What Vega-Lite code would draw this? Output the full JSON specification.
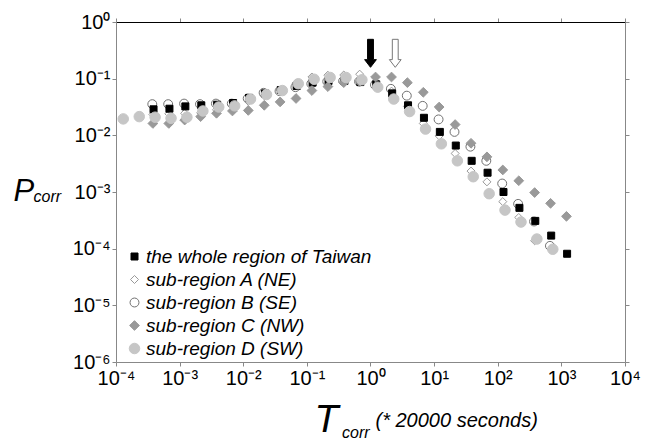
{
"$schema": "https://vega.github.io/schema/vega-lite/v6.json",
"width": 509, "height": 340,
"autosize": "none",
"padding": {"left": 116, "top": 22, "right": 31, "bottom": 80},
"background": "white",
"title": {"text": "corr", "orient": "bottom", "anchor": "start", "frame": "group", "dx": 226, "dy": -1, "offset": 0, "baseline": "alphabetic", "font": "Liberation Sans", "fontSize": 16, "fontStyle": "italic", "fontWeight": "normal", "color": "black"},
"config": {
  "view": {"stroke": null},
  "font": "Liberation Sans",
  "axis": {"labelFont": "Liberation Sans", "labelFontSize": 20, "labelColor": "black", "tickColor": "#888888", "domainColor": "#888888", "tickSize": 4, "grid": false, "titleFont": "Liberation Sans", "titleColor": "black", "titleFontWeight": "normal", "labelOverlap": false, "labelBound": false},
  "legend": {"orient": "none", "legendX": 9, "legendY": 225, "labelFont": "Liberation Sans", "labelFontSize": 19, "labelFontStyle": "italic", "labelColor": "black", "labelOffset": 2, "labelLimit": 0, "rowPadding": 3, "padding": 0, "symbolStrokeWidth": 1}
},
"layer": [
{
  "data": {"values": [
    {"s":"sub-region B (SE)","x":0.000372,"y":0.0355},{"s":"sub-region B (SE)","x":0.000661,"y":0.0355},{"s":"sub-region B (SE)","x":0.001175,"y":0.0363},{"s":"sub-region B (SE)","x":0.00209,"y":0.0355},{"s":"sub-region B (SE)","x":0.00372,"y":0.0363},{"s":"sub-region B (SE)","x":0.00661,"y":0.0363},{"s":"sub-region B (SE)","x":0.01175,"y":0.0447},{"s":"sub-region B (SE)","x":0.0209,"y":0.0562},{"s":"sub-region B (SE)","x":0.0372,"y":0.0603},{"s":"sub-region B (SE)","x":0.0661,"y":0.0708},{"s":"sub-region B (SE)","x":0.1175,"y":0.0813},{"s":"sub-region B (SE)","x":0.209,"y":0.0891},{"s":"sub-region B (SE)","x":0.372,"y":0.0912},{"s":"sub-region B (SE)","x":0.661,"y":0.0891},{"s":"sub-region B (SE)","x":1.175,"y":0.0776},{"s":"sub-region B (SE)","x":2.09,"y":0.0661},{"s":"sub-region B (SE)","x":3.72,"y":0.0501},{"s":"sub-region B (SE)","x":6.61,"y":0.0331},{"s":"sub-region B (SE)","x":11.75,"y":0.0191},{"s":"sub-region B (SE)","x":20.9,"y":0.0115},{"s":"sub-region B (SE)","x":37.2,"y":0.00631},{"s":"sub-region B (SE)","x":66.1,"y":0.00355},{"s":"sub-region B (SE)","x":117.5,"y":0.00141},{"s":"sub-region B (SE)","x":209,"y":0.000617},{"s":"sub-region B (SE)","x":372,"y":0.000302},{"s":"sub-region B (SE)","x":661,"y":0.000112},
    {"s":"sub-region A (NE)","x":0.00038,"y":0.0234},{"s":"sub-region A (NE)","x":0.000676,"y":0.024},{"s":"sub-region A (NE)","x":0.0012,"y":0.0245},{"s":"sub-region A (NE)","x":0.00214,"y":0.0251},{"s":"sub-region A (NE)","x":0.0038,"y":0.0282},{"s":"sub-region A (NE)","x":0.00676,"y":0.0331},{"s":"sub-region A (NE)","x":0.012,"y":0.0398},{"s":"sub-region A (NE)","x":0.0214,"y":0.0501},{"s":"sub-region A (NE)","x":0.038,"y":0.0631},{"s":"sub-region A (NE)","x":0.0676,"y":0.0832},{"s":"sub-region A (NE)","x":0.12,"y":0.107},{"s":"sub-region A (NE)","x":0.214,"y":0.115},{"s":"sub-region A (NE)","x":0.38,"y":0.116},{"s":"sub-region A (NE)","x":0.676,"y":0.12},{"s":"sub-region A (NE)","x":1.2,"y":0.0891},{"s":"sub-region A (NE)","x":2.14,"y":0.0603},{"s":"sub-region A (NE)","x":3.8,"y":0.0324},{"s":"sub-region A (NE)","x":6.76,"y":0.0162},{"s":"sub-region A (NE)","x":12,"y":0.00977},{"s":"sub-region A (NE)","x":21.4,"y":0.00479},{"s":"sub-region A (NE)","x":38,"y":0.00234},{"s":"sub-region A (NE)","x":67.6,"y":0.00151},{"s":"sub-region A (NE)","x":120,"y":0.000676},{"s":"sub-region A (NE)","x":214,"y":0.000355},{"s":"sub-region A (NE)","x":380,"y":0.000138},
    {"s":"the whole region of Taiwan","x":0.000389,"y":0.0288},{"s":"the whole region of Taiwan","x":0.000692,"y":0.0295},{"s":"the whole region of Taiwan","x":0.00123,"y":0.0324},{"s":"the whole region of Taiwan","x":0.00219,"y":0.0339},{"s":"the whole region of Taiwan","x":0.00389,"y":0.0347},{"s":"the whole region of Taiwan","x":0.00692,"y":0.0372},{"s":"the whole region of Taiwan","x":0.0123,"y":0.0457},{"s":"the whole region of Taiwan","x":0.0219,"y":0.055},{"s":"the whole region of Taiwan","x":0.0389,"y":0.0631},{"s":"the whole region of Taiwan","x":0.0692,"y":0.0741},{"s":"the whole region of Taiwan","x":0.123,"y":0.0851},{"s":"the whole region of Taiwan","x":0.219,"y":0.0912},{"s":"the whole region of Taiwan","x":0.389,"y":0.0912},{"s":"the whole region of Taiwan","x":0.692,"y":0.0871},{"s":"the whole region of Taiwan","x":1.23,"y":0.0794},{"s":"the whole region of Taiwan","x":2.19,"y":0.055},{"s":"the whole region of Taiwan","x":3.89,"y":0.0339},{"s":"the whole region of Taiwan","x":6.92,"y":0.0204},{"s":"the whole region of Taiwan","x":12.3,"y":0.0115},{"s":"the whole region of Taiwan","x":21.9,"y":0.0066},{"s":"the whole region of Taiwan","x":38.9,"y":0.00355},{"s":"the whole region of Taiwan","x":69.2,"y":0.00219},{"s":"the whole region of Taiwan","x":123,"y":0.001},{"s":"the whole region of Taiwan","x":219,"y":0.000525},{"s":"the whole region of Taiwan","x":389,"y":0.000309},{"s":"the whole region of Taiwan","x":692,"y":0.00017},{"s":"the whole region of Taiwan","x":1230,"y":0.0000813},
    {"s":"sub-region C (NW)","x":0.00038,"y":0.0162},{"s":"sub-region C (NW)","x":0.000676,"y":0.0162},{"s":"sub-region C (NW)","x":0.0012,"y":0.0186},{"s":"sub-region C (NW)","x":0.00214,"y":0.0214},{"s":"sub-region C (NW)","x":0.0038,"y":0.0245},{"s":"sub-region C (NW)","x":0.00676,"y":0.0269},{"s":"sub-region C (NW)","x":0.012,"y":0.0275},{"s":"sub-region C (NW)","x":0.0214,"y":0.0339},{"s":"sub-region C (NW)","x":0.038,"y":0.0389},{"s":"sub-region C (NW)","x":0.0676,"y":0.0447},{"s":"sub-region C (NW)","x":0.12,"y":0.0617},{"s":"sub-region C (NW)","x":0.214,"y":0.0724},{"s":"sub-region C (NW)","x":0.38,"y":0.0851},{"s":"sub-region C (NW)","x":0.676,"y":0.0891},{"s":"sub-region C (NW)","x":1.2,"y":0.107},{"s":"sub-region C (NW)","x":2.14,"y":0.107},{"s":"sub-region C (NW)","x":3.8,"y":0.0851},{"s":"sub-region C (NW)","x":6.76,"y":0.0575},{"s":"sub-region C (NW)","x":12,"y":0.0316},{"s":"sub-region C (NW)","x":21.4,"y":0.0155},{"s":"sub-region C (NW)","x":38,"y":0.00724},{"s":"sub-region C (NW)","x":67.6,"y":0.00417},{"s":"sub-region C (NW)","x":120,"y":0.00245},{"s":"sub-region C (NW)","x":214,"y":0.00158},{"s":"sub-region C (NW)","x":380,"y":0.000977},{"s":"sub-region C (NW)","x":676,"y":0.000631},{"s":"sub-region C (NW)","x":1202,"y":0.000372},
    {"s":"sub-region D (SW)","x":0.00013,"y":0.0195},{"s":"sub-region D (SW)","x":0.000232,"y":0.0214},{"s":"sub-region D (SW)","x":0.000412,"y":0.0209},{"s":"sub-region D (SW)","x":0.000733,"y":0.02},{"s":"sub-region D (SW)","x":0.0013,"y":0.0209},{"s":"sub-region D (SW)","x":0.00232,"y":0.0269},{"s":"sub-region D (SW)","x":0.00412,"y":0.0316},{"s":"sub-region D (SW)","x":0.00733,"y":0.0331},{"s":"sub-region D (SW)","x":0.013,"y":0.0437},{"s":"sub-region D (SW)","x":0.0232,"y":0.0525},{"s":"sub-region D (SW)","x":0.0412,"y":0.0617},{"s":"sub-region D (SW)","x":0.0733,"y":0.0813},{"s":"sub-region D (SW)","x":0.13,"y":0.0977},{"s":"sub-region D (SW)","x":0.232,"y":0.105},{"s":"sub-region D (SW)","x":0.412,"y":0.105},{"s":"sub-region D (SW)","x":0.733,"y":0.0955},{"s":"sub-region D (SW)","x":1.3,"y":0.0708},{"s":"sub-region D (SW)","x":2.32,"y":0.0437},{"s":"sub-region D (SW)","x":4.12,"y":0.0263},{"s":"sub-region D (SW)","x":7.33,"y":0.0129},{"s":"sub-region D (SW)","x":13,"y":0.00708},{"s":"sub-region D (SW)","x":23.2,"y":0.00355},{"s":"sub-region D (SW)","x":41.2,"y":0.00186},{"s":"sub-region D (SW)","x":73.3,"y":0.000933},{"s":"sub-region D (SW)","x":130,"y":0.000479},{"s":"sub-region D (SW)","x":232,"y":0.000295},{"s":"sub-region D (SW)","x":412,"y":0.000148},{"s":"sub-region D (SW)","x":733,"y":0.0000977}
  ]},
  "mark": {"type": "point", "opacity": 1, "strokeWidth": 1},
  "encoding": {
    "x": {"field": "x", "type": "quantitative", "scale": {"type": "log", "domain": [0.0001, 10000], "nice": false},
      "axis": {"orient": "bottom", "values": [0.0001, 0.001, 0.01, 0.1, 1, 10, 100, 1000, 10000], "labelFlush": false, "labelPadding": 2,
        "labelExpr": "'10' + (datum.value < 0.99 ? '⁻' : '') + ['⁰','¹','²','³','⁴','⁵','⁶'][abs(round(log(datum.value)/LN10))]",
        "title": "T", "titleFontSize": 39, "titleFontStyle": "italic", "titleAlign": "left", "titleBaseline": "alphabetic", "titleX": 198, "titleY": 69}},
    "y": {"field": "y", "type": "quantitative", "scale": {"type": "log", "domain": [0.000001, 1], "nice": false},
      "axis": {"orient": "left", "values": [0.000001, 0.00001, 0.0001, 0.001, 0.01, 0.1, 1], "labelPadding": 2,
        "labelExpr": "'10' + (datum.value < 0.99 ? '⁻' : '') + ['⁰','¹','²','³','⁴','⁵','⁶'][abs(round(log(datum.value)/LN10))]",
        "title": "P", "titleFontSize": 31, "titleFontStyle": "italic", "titleAngle": 0, "titleAlign": "left", "titleBaseline": "alphabetic", "titleX": -103, "titleY": 178}},
    "shape": {"field": "s", "type": "nominal", "title": null, "scale": {"domain": ["the whole region of Taiwan", "sub-region A (NE)", "sub-region B (SE)", "sub-region C (NW)", "sub-region D (SW)"], "range": ["square", "diamond", "circle", "diamond", "circle"]}},
    "fill": {"field": "s", "type": "nominal", "title": null, "scale": {"domain": ["the whole region of Taiwan", "sub-region A (NE)", "sub-region B (SE)", "sub-region C (NW)", "sub-region D (SW)"], "range": ["#000000", "transparent", "transparent", "#999999", "#c6c6c6"]}},
    "stroke": {"field": "s", "type": "nominal", "title": null, "scale": {"domain": ["the whole region of Taiwan", "sub-region A (NE)", "sub-region B (SE)", "sub-region C (NW)", "sub-region D (SW)"], "range": ["#000000", "#999999", "#707070", "#999999", "#c6c6c6"]}},
    "size": {"field": "s", "type": "nominal", "title": null, "scale": {"domain": ["the whole region of Taiwan", "sub-region A (NE)", "sub-region B (SE)", "sub-region C (NW)", "sub-region D (SW)"], "range": [49, 110, 100, 110, 110]}}
  }
},
{
  "data": {"values": [{"arrow": "filled", "x": 1, "y": 0.28}, {"arrow": "hollow", "x": 2.45, "y": 0.28}]},
  "mark": {"type": "point", "shape": "M-0.21,-1L0.21,-1L0.21,0.45L0.42,0.45L0,1L-0.42,0.45L-0.21,0.45Z", "size": 784, "opacity": 1, "strokeWidth": 1},
  "encoding": {
    "x": {"field": "x", "type": "quantitative", "scale": {"type": "log", "domain": [0.0001, 10000], "nice": false},
      "axis": {"orient": "top", "values": [0.0001, 0.001, 0.01, 0.1, 1, 10, 100, 1000, 10000], "labels": false, "domainColor": "#000000",
        "title": "(* 20000 seconds)", "titleFontSize": 20, "titleFontStyle": "italic", "titleAlign": "left", "titleBaseline": "alphabetic", "titleX": 259, "titleY": 404}},
    "y": {"field": "y", "type": "quantitative", "scale": {"type": "log", "domain": [0.000001, 1], "nice": false},
      "axis": {"orient": "right", "values": [0.000001, 0.00001, 0.0001, 0.001, 0.01, 0.1, 1], "labels": false,
        "title": "corr", "titleFontSize": 16, "titleFontStyle": "italic", "titleAngle": 0, "titleAlign": "left", "titleBaseline": "alphabetic", "titleX": -592, "titleY": 179}},
    "fill": {"field": "arrow", "type": "nominal", "legend": null, "scale": {"domain": ["filled", "hollow"], "range": ["#000000", "#ffffff"]}},
    "stroke": {"field": "arrow", "type": "nominal", "legend": null, "scale": {"domain": ["filled", "hollow"], "range": ["#000000", "#777777"]}}
  }
}
],
"resolve": {"axis": {"x": "independent", "y": "independent"}, "scale": {"fill": "independent", "stroke": "independent", "shape": "independent", "size": "independent"}}
}
